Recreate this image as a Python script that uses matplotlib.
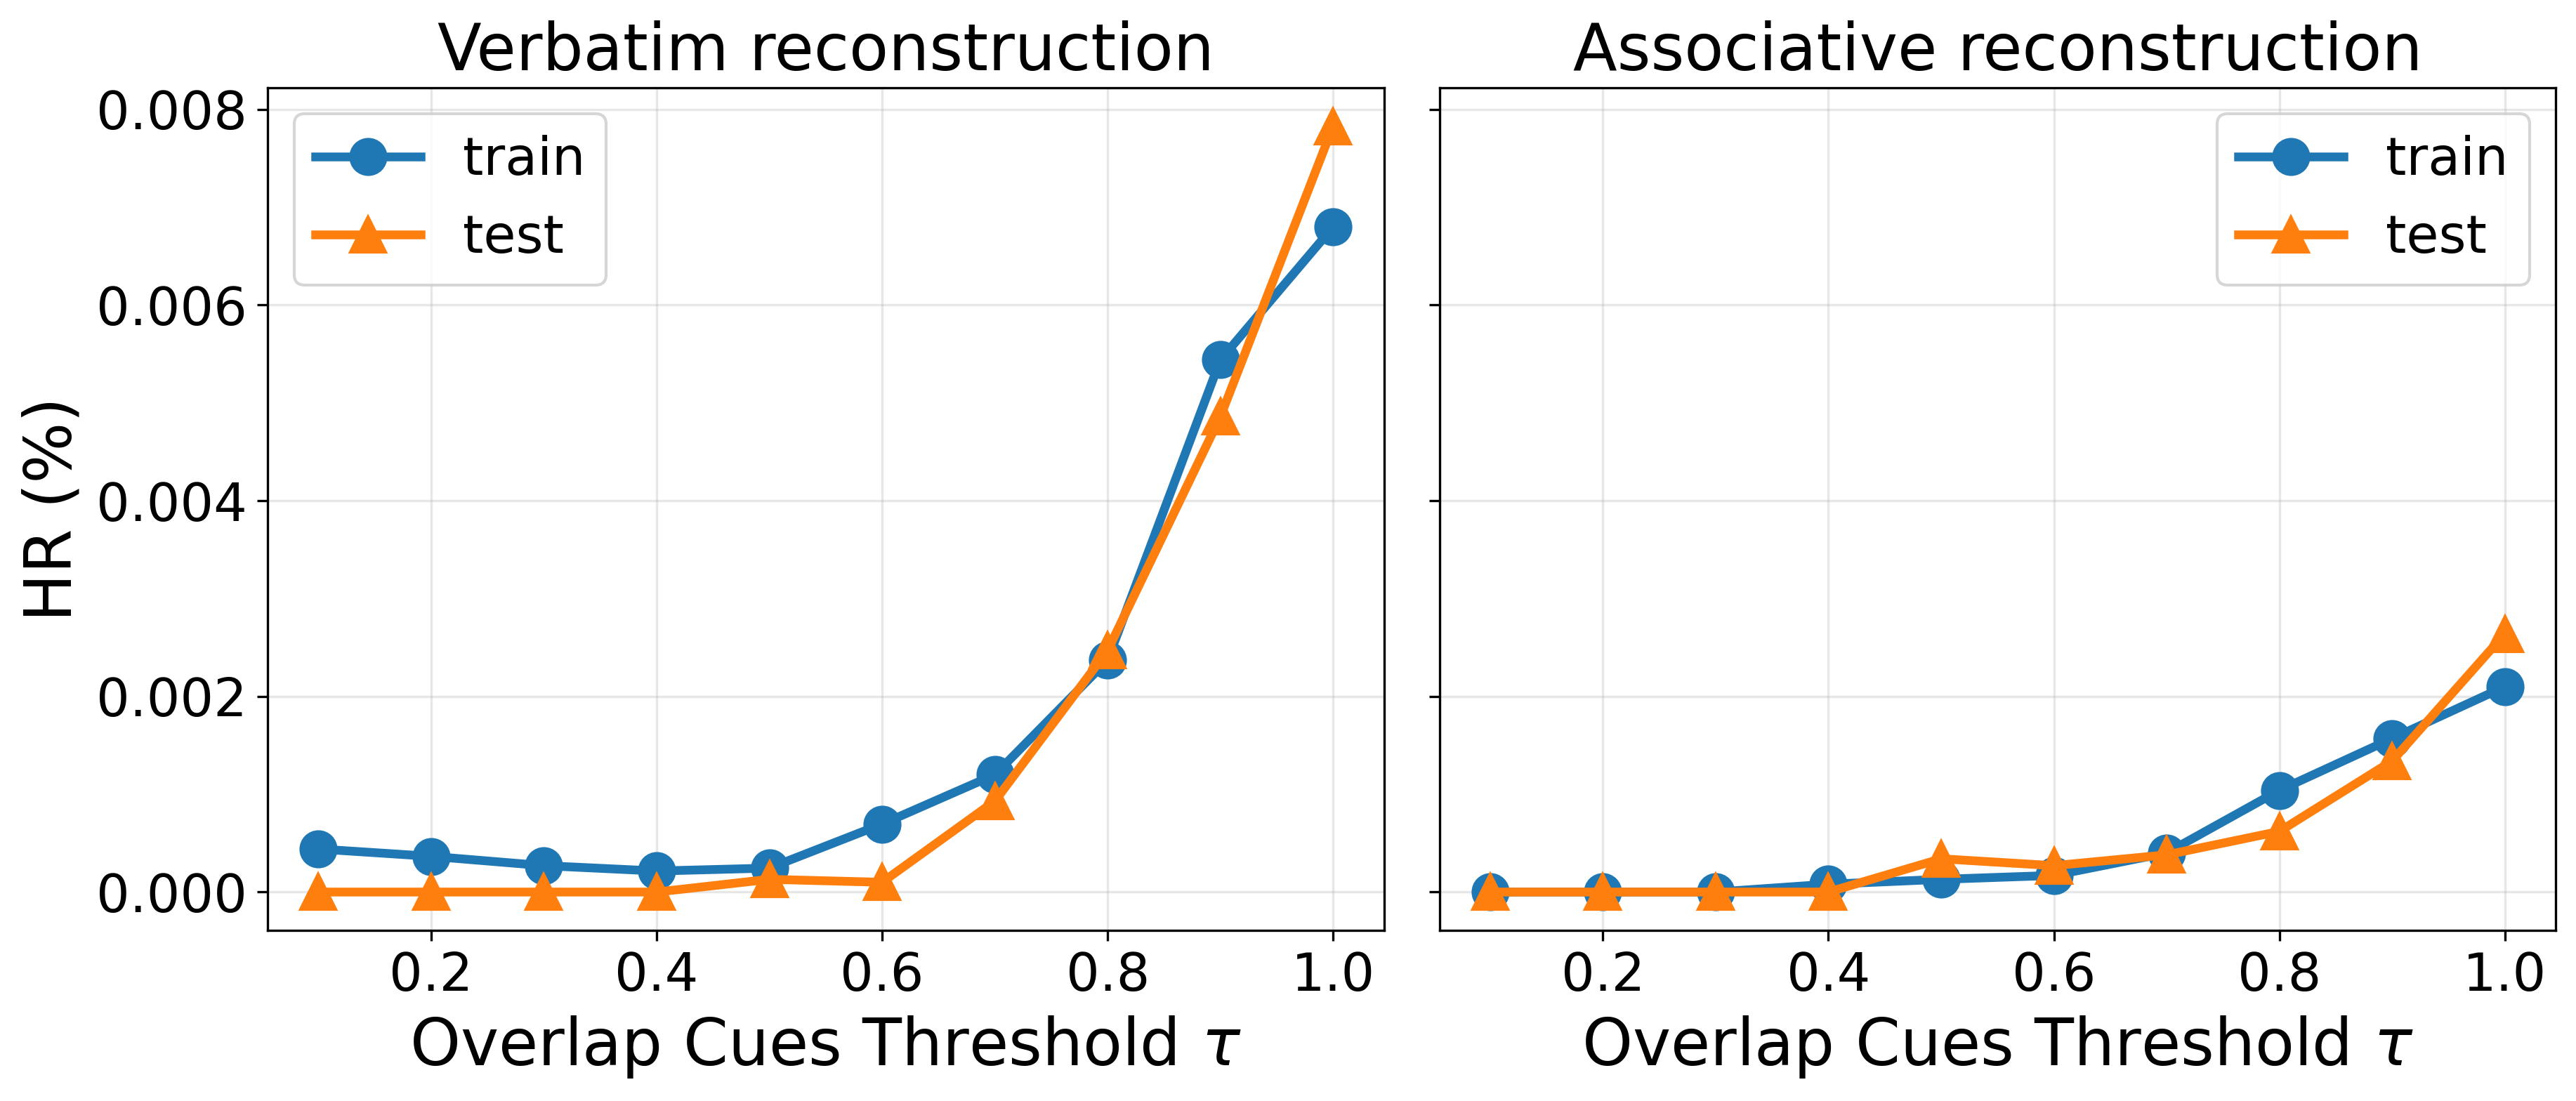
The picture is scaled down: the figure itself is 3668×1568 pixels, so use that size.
import matplotlib
matplotlib.use("Agg")
import matplotlib.pyplot as plt

# overlap cue thresholds
tau = [0.1, 0.2, 0.3, 0.4, 0.5, 0.6, 0.7, 0.8, 0.9, 1.0]

# verbatim reconstruction HR (%)
verb_train = [0.00044, 0.000365, 0.00027, 0.000215, 0.000245, 0.000695, 0.0012, 0.00237, 0.00544, 0.0068]
verb_test = [0.0, 0.0, 0.0, 0.0, 0.00013, 0.0001, 0.00093, 0.00247, 0.00486, 0.00783]

# associative reconstruction HR (%)
assoc_train = [0.0, 0.0, 0.0, 0.00008, 0.00013, 0.00017, 0.0004, 0.00104, 0.00157, 0.0021]
assoc_test = [0.0, 0.0, 0.0, 0.0, 0.00034, 0.00027, 0.00038, 0.00062, 0.00134, 0.00264]

titles = ["Verbatim reconstruction", "Associative reconstruction"]
legend_locs = ["upper left", "upper right"]

fig, axes = plt.subplots(1, 2, figsize=(3668 / 300, 1568 / 300), dpi=300, sharey=True)
fig.subplots_adjust(left=0.1039, right=0.9921, bottom=0.155, top=0.9203, wspace=0.0497)

series = [(verb_train, verb_test), (assoc_train, assoc_test)]
for ax, (tr, te), title, loc in zip(axes, series, titles, legend_locs):
    ax.plot(tau, tr, marker="o", color="#1f77b4", linewidth=3, markersize=12, label="train")
    ax.plot(tau, te, marker="^", color="#ff7f0e", linewidth=3, markersize=12, label="test")
    ax.set_title(title, fontsize=22)
    ax.set_xlabel(r"Overlap Cues Threshold $\tau$", fontsize=22)
    ax.tick_params(labelsize=18)
    ax.grid(True, alpha=0.3)
    ax.legend(loc=loc, fontsize=18)

axes[0].set_ylabel("HR (%)", fontsize=22)

fig.savefig("out.png", dpi=300)
